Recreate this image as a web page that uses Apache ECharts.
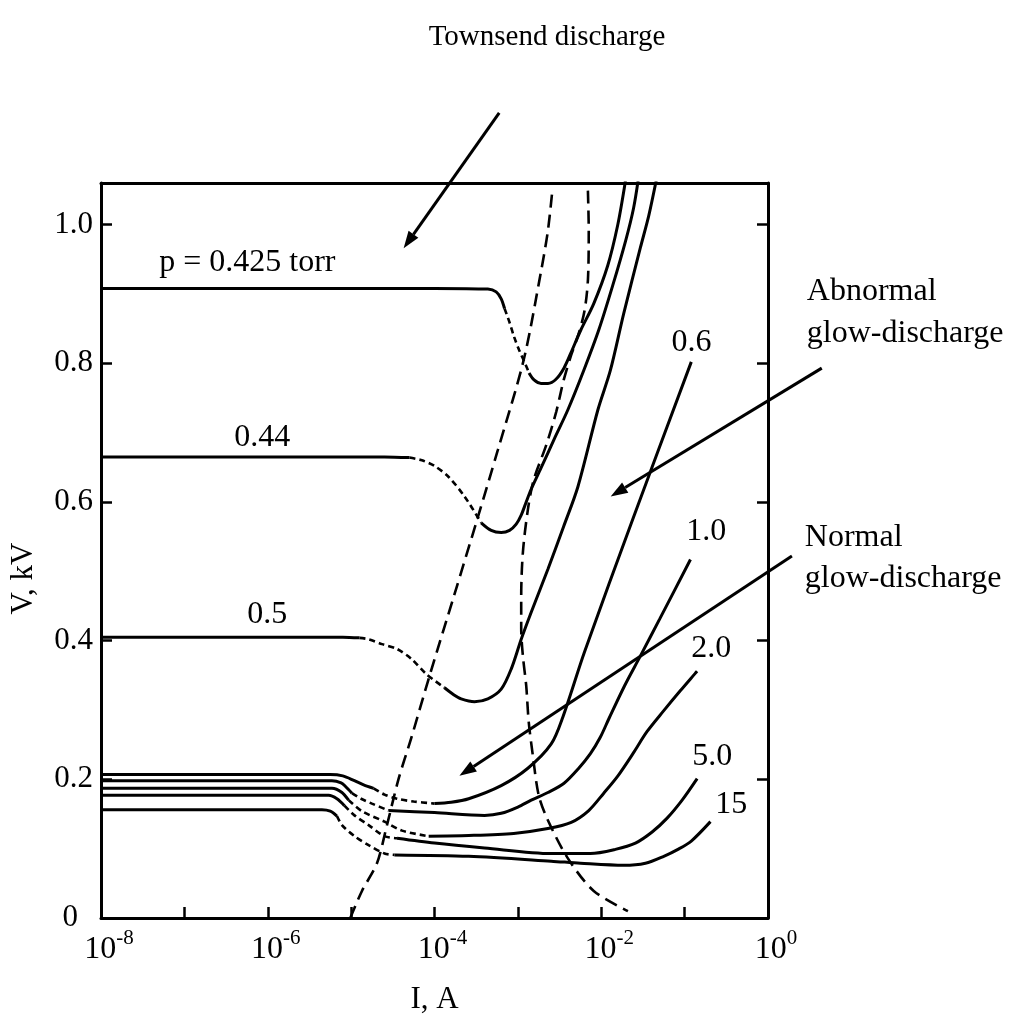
<!DOCTYPE html>
<html>
<head>
<meta charset="utf-8">
<script src="https://cdn.jsdelivr.net/npm/echarts@6/dist/echarts.min.js"></script>
<style>
  html, body { margin: 0; padding: 0; background: #fff; }
  #chart { width: 1012px; height: 1020px; }
</style>
</head>
<body>
<div id="chart"></div>
<script>
// Current-voltage characteristics of a gas discharge at several pressures.
// x = log10(I / A), y = V in kV.

// p = 0.425 torr
const p0425Stable   = [[-8,0.908],[-4,0.908],[-3.36,0.907],[-3.26,0.903],[-3.20,0.893],[-3.16,0.879]];
const p0425Unstable = [[-3.16,0.879],[-3.10,0.859],[-3.045,0.838],[-2.985,0.819],[-2.925,0.803],[-2.866,0.786]];
const p0425Glow     = [[-2.866,0.786],[-2.806,0.776],[-2.722,0.771],[-2.639,0.771],[-2.543,0.777],[-2.448,0.793],[-2.364,0.815],[-2.245,0.848],[-2.090,0.886],[-1.922,0.941],[-1.803,0.999],[-1.719,1.056],[-1.70,1.075]];

// p = 0.44 torr
const p044Stable   = [[-8,0.665],[-4.6,0.665],[-4.30,0.664]];
const p044Unstable = [[-4.30,0.664],[-4.15,0.660],[-4.00,0.652],[-3.83,0.636],[-3.64,0.608],[-3.44,0.570]];
const p044Glow     = [[-3.44,0.570],[-3.32,0.559],[-3.20,0.556],[-3.10,0.559],[-3.02,0.568],[-2.96,0.581],[-2.90,0.600],[-2.842,0.618],[-2.722,0.649],[-2.567,0.690],[-2.400,0.733],[-2.209,0.790],[-2.030,0.848],[-1.863,0.912],[-1.707,0.977],[-1.612,1.024],[-1.55,1.07]];

// p = 0.5 torr
const p05Stable   = [[-8,0.405],[-5.1,0.405],[-4.90,0.404]];
const p05Unstable = [[-4.90,0.404],[-4.79,0.402],[-4.63,0.395],[-4.45,0.388],[-4.28,0.374],[-4.10,0.352],[-3.88,0.332]];
const p05Glow     = [[-3.88,0.332],[-3.77,0.322],[-3.68,0.316],[-3.52,0.312],[-3.36,0.316],[-3.20,0.330],[-3.08,0.359],[-2.96,0.402],[-2.84,0.441],[-2.64,0.503],[-2.45,0.565],[-2.28,0.622],[-2.04,0.733],[-1.89,0.790],[-1.73,0.872],[-1.53,0.967],[-1.43,1.013],[-1.33,1.070]];

// p = 0.6 torr
const p06Stable   = [[-8,0.207],[-5.25,0.207],[-5.10,0.205],[-4.96,0.198],[-4.85,0.192],[-4.73,0.187]];
const p06Unstable = [[-4.73,0.187],[-4.60,0.178],[-4.45,0.172],[-4.25,0.168],[-4.0,0.165]];
const p06Glow     = [[-4.0,0.165],[-3.80,0.167],[-3.59,0.172],[-3.20,0.191],[-2.88,0.216],[-2.60,0.251],[-2.46,0.290],[-2.20,0.384],[-1.61,0.579],[-0.92,0.802]];

// p = 1.0 torr
const p10Stable   = [[-8,0.198],[-5.23,0.198],[-5.12,0.195],[-5.07,0.190],[-4.99,0.180]];
const p10Unstable = [[-4.99,0.180],[-4.88,0.172],[-4.75,0.165],[-4.55,0.155]];
const p10Glow     = [[-4.55,0.155],[-4.0,0.152],[-3.40,0.148],[-3.20,0.151],[-3.00,0.160],[-2.84,0.170],[-2.64,0.181],[-2.45,0.194],[-2.27,0.216],[-2.13,0.237],[-2.01,0.261],[-1.91,0.287],[-1.72,0.335],[-1.53,0.378],[-1.30,0.431],[-0.93,0.517]];

// p = 2.0 torr
const p20Stable   = [[-8,0.187],[-5.23,0.187],[-5.11,0.181],[-5.03,0.170]];
const p20Unstable = [[-5.03,0.170],[-4.87,0.154],[-4.60,0.139],[-4.39,0.126],[-4.07,0.118]];
const p20Glow     = [[-4.07,0.118],[-3.59,0.119],[-3.05,0.122],[-2.64,0.129],[-2.36,0.138],[-2.15,0.155],[-1.97,0.180],[-1.80,0.205],[-1.62,0.237],[-1.45,0.269],[-1.25,0.299],[-1.05,0.328],[-0.85,0.356]];

// p = 5.0 torr
const p50Stable   = [[-8,0.177],[-5.27,0.177],[-5.17,0.172],[-5.08,0.162]];
const p50Unstable = [[-5.08,0.162],[-4.96,0.148],[-4.79,0.134],[-4.60,0.118],[-4.45,0.115]];
const p50Glow     = [[-4.45,0.115],[-4.0,0.108],[-3.40,0.101],[-2.60,0.093],[-2.13,0.093],[-1.83,0.099],[-1.59,0.108],[-1.39,0.124],[-1.21,0.144],[-1.03,0.170],[-0.85,0.201]];

// p = 15 torr
const p15Stable   = [[-8,0.156],[-5.35,0.156],[-5.25,0.154],[-5.17,0.147]];
const p15Unstable = [[-5.17,0.147],[-5.11,0.134],[-4.96,0.118],[-4.79,0.105],[-4.60,0.093],[-4.48,0.091]];
const p15Glow     = [[-4.48,0.091],[-3.59,0.089],[-2.60,0.082],[-2.25,0.079],[-1.73,0.076],[-1.47,0.079],[-1.25,0.089],[-1.08,0.099],[-0.92,0.111],[-0.69,0.139]];

// Region boundaries (dashed)
const townsendEdge = [[-5.01,0.0],[-4.87,0.039],[-4.69,0.079],[-4.57,0.134],[-4.43,0.201],[-4.28,0.259],[-4.06,0.349],[-3.76,0.467],[-3.48,0.578],[-3.24,0.675],[-2.93,0.805],[-2.72,0.934],[-2.64,0.991],[-2.59,1.045]];
const normalGlowEdge = [[-2.16,1.049],[-2.15,0.991],[-2.16,0.920],[-2.20,0.876],[-2.27,0.843],[-2.36,0.812],[-2.45,0.776],[-2.54,0.730],[-2.66,0.682],[-2.81,0.632],[-2.88,0.589],[-2.94,0.527],[-2.96,0.464],[-2.96,0.417],[-2.94,0.378],[-2.90,0.335],[-2.87,0.283],[-2.82,0.234],[-2.75,0.177],[-2.64,0.141],[-2.40,0.086],[-2.09,0.039],[-1.68,0.010]];

// Axis ticks
const xTicks = [-8,-7,-6,-5,-4,-3,-2,-1,0];
const xLabelExps = [-8,-6,-4,-2,0];
const yTicks = [0,0.2,0.4,0.6,0.8,1.0];

// Curve labels [text, log10 I, V]
const curveLabels = [
  ['p = 0.425 torr', -6.245, 0.945],
  ['0.44', -6.066, 0.693],
  ['0.5', -6.006, 0.437],
  ['0.6', -0.919, 0.830],
  ['1.0', -0.740, 0.557],
  ['2.0', -0.681, 0.388],
  ['5.0', -0.669, 0.233],
  ['15', -0.442, 0.164]
];

// Region notes [text, log10 I, V] (left aligned)
const regionNotes = [
  ['Abnormal', 0.466, 0.904],
  ['glow-discharge', 0.466, 0.843],
  ['Normal', 0.442, 0.549],
  ['glow-discharge', 0.442, 0.489]
];
const headline = ['Townsend discharge', -2.651, 1.270];

// Pointer arrows [from, to]
const pointers = [
  [[-3.224, 1.161], [-4.370, 0.966]],
  [[0.645, 0.793], [-1.887, 0.608]],
  [[0.287, 0.522], [-3.701, 0.205]]
];

const FONT = '"Liberation Serif", "Times New Roman", serif';

const curves = [
  [p0425Stable, p0425Unstable, p0425Glow],
  [p044Stable, p044Unstable, p044Glow],
  [p05Stable, p05Unstable, p05Glow],
  [p06Stable, p06Unstable, p06Glow],
  [p10Stable, p10Unstable, p10Glow],
  [p20Stable, p20Unstable, p20Glow],
  [p50Stable, p50Unstable, p50Glow],
  [p15Stable, p15Unstable, p15Glow]
];

const solidLine = { color: '#000', width: 3, type: 'solid' };
const shortDash = { color: '#000', width: 2.6, type: [6, 4] };
const longDash  = { color: '#000', width: 2.6, type: [13, 7] };

const series = [];
function addLine(data, style) {
  series.push({
    type: 'line',
    data: data,
    showSymbol: false,
    symbol: 'none',
    smooth: 0.3,
    lineStyle: style,
    silent: true,
    z: 3
  });
}
curves.forEach(c => {
  addLine(c[0], solidLine);
  addLine(c[1], shortDash);
  addLine(c[2], solidLine);
});
addLine(townsendEdge, longDash);
addLine(normalGlowEdge, longDash);

const axisLineStyle = { color: '#000', width: 3 };
const tickStyle = { color: '#000', width: 2.5 };

const chart = echarts.init(document.getElementById('chart'), null, { renderer: 'canvas' });

chart.setOption({
  animation: false,
  backgroundColor: '#fff',
  grid: { left: 98, top: 183, width: 670, height: 737, show: false },
  xAxis: [{
    type: 'value', min: xTicks[0], max: xTicks[xTicks.length - 1], interval: 1,
    position: 'bottom',
    name: 'I, A', nameLocation: 'middle', nameGap: 66,
    nameTextStyle: { fontFamily: FONT, fontSize: 31, color: '#000' },
    axisLine: { show: true, onZero: false, lineStyle: axisLineStyle },
    axisTick: { show: true, inside: true, length: 11, lineStyle: tickStyle },
    splitLine: { show: false },
    axisLabel: {
      margin: 10,
      color: '#000',
      fontFamily: FONT,
      formatter: function (v) {
        const e = Math.round(v);
        return xLabelExps.indexOf(e) >= 0 ? '{b|10}{s|' + e + '}' : '';
      },
      rich: {
        b: { fontFamily: FONT, fontSize: 32, color: '#000', lineHeight: 44, padding: [0, 0, 0, 16] },
        s: { fontFamily: FONT, fontSize: 21, color: '#000', lineHeight: 22, verticalAlign: 'top' }
      }
    }
  }, {
    type: 'value', min: xTicks[0], max: xTicks[xTicks.length - 1], interval: 1,
    position: 'top',
    axisLine: { show: true, onZero: false, lineStyle: axisLineStyle },
    axisTick: { show: false }, axisLabel: { show: false }, splitLine: { show: false }
  }],
  yAxis: [{
    type: 'value', min: 0, max: 1.06, interval: 0.2,
    position: 'left',
    name: 'V, kV', nameLocation: 'middle', nameGap: 62, nameRotate: 90,
    nameTextStyle: { fontFamily: FONT, fontSize: 31, color: '#000', padding: [0, 56, 0, 0] },
    axisLine: { show: true, onZero: false, lineStyle: axisLineStyle },
    axisTick: { show: true, inside: true, length: 11, lineStyle: tickStyle },
    splitLine: { show: false },
    axisLabel: {
      margin: 8,
      color: '#000',
      fontFamily: FONT,
      fontSize: 31,
      formatter: function (v) {
        for (let i = 0; i < yTicks.length; i++) {
          if (Math.abs(v - yTicks[i]) < 1e-6) {
            return yTicks[i] === 0 ? '{z|0}' : yTicks[i].toFixed(1);
          }
        }
        return '';
      },
      rich: { z: { fontFamily: FONT, fontSize: 31, color: '#000', padding: [0, 15, 0, 0] } }
    }
  }, {
    type: 'value', min: 0, max: 1.06, interval: 0.2,
    position: 'right',
    axisLine: { show: true, onZero: false, lineStyle: axisLineStyle },
    axisTick: { show: true, inside: true, length: 11, lineStyle: tickStyle },
    axisLabel: { show: false }, splitLine: { show: false }
  }],
  series: series
});

// Annotations placed in data coordinates
function px(pt) { return chart.convertToPixel({ gridIndex: 0 }, pt); }

const graphics = [];
function textAt(str, pt, align, size) {
  const p = px(pt);
  graphics.push({
    type: 'text', x: p[0], y: p[1], z: 10,
    style: { text: str, fontFamily: FONT, fontSize: size, fill: '#000', align: align, verticalAlign: 'middle' }
  });
}
curveLabels.forEach(l => textAt(l[0], [l[1], l[2]], 'center', 32));
regionNotes.forEach(l => textAt(l[0], [l[1], l[2]], 'left', 32));
textAt(headline[0], [headline[1], headline[2]], 'center', 29);

pointers.forEach(a => {
  const p1 = px(a[0]), p2 = px(a[1]);
  const ang = Math.atan2(p2[1] - p1[1], p2[0] - p1[0]);
  const L = 17, W = 6;
  const bx = p2[0] - L * Math.cos(ang), by = p2[1] - L * Math.sin(ang);
  const nx = -Math.sin(ang), ny = Math.cos(ang);
  graphics.push({
    type: 'line', z: 10,
    shape: { x1: p1[0], y1: p1[1], x2: bx, y2: by },
    style: { stroke: '#000', lineWidth: 3 }
  });
  graphics.push({
    type: 'polygon', z: 10,
    shape: { points: [[p2[0], p2[1]], [bx + nx * W, by + ny * W], [bx - nx * W, by - ny * W]] },
    style: { fill: '#000' }
  });
});

chart.setOption({ graphic: graphics });
</script>
</body>
</html>
